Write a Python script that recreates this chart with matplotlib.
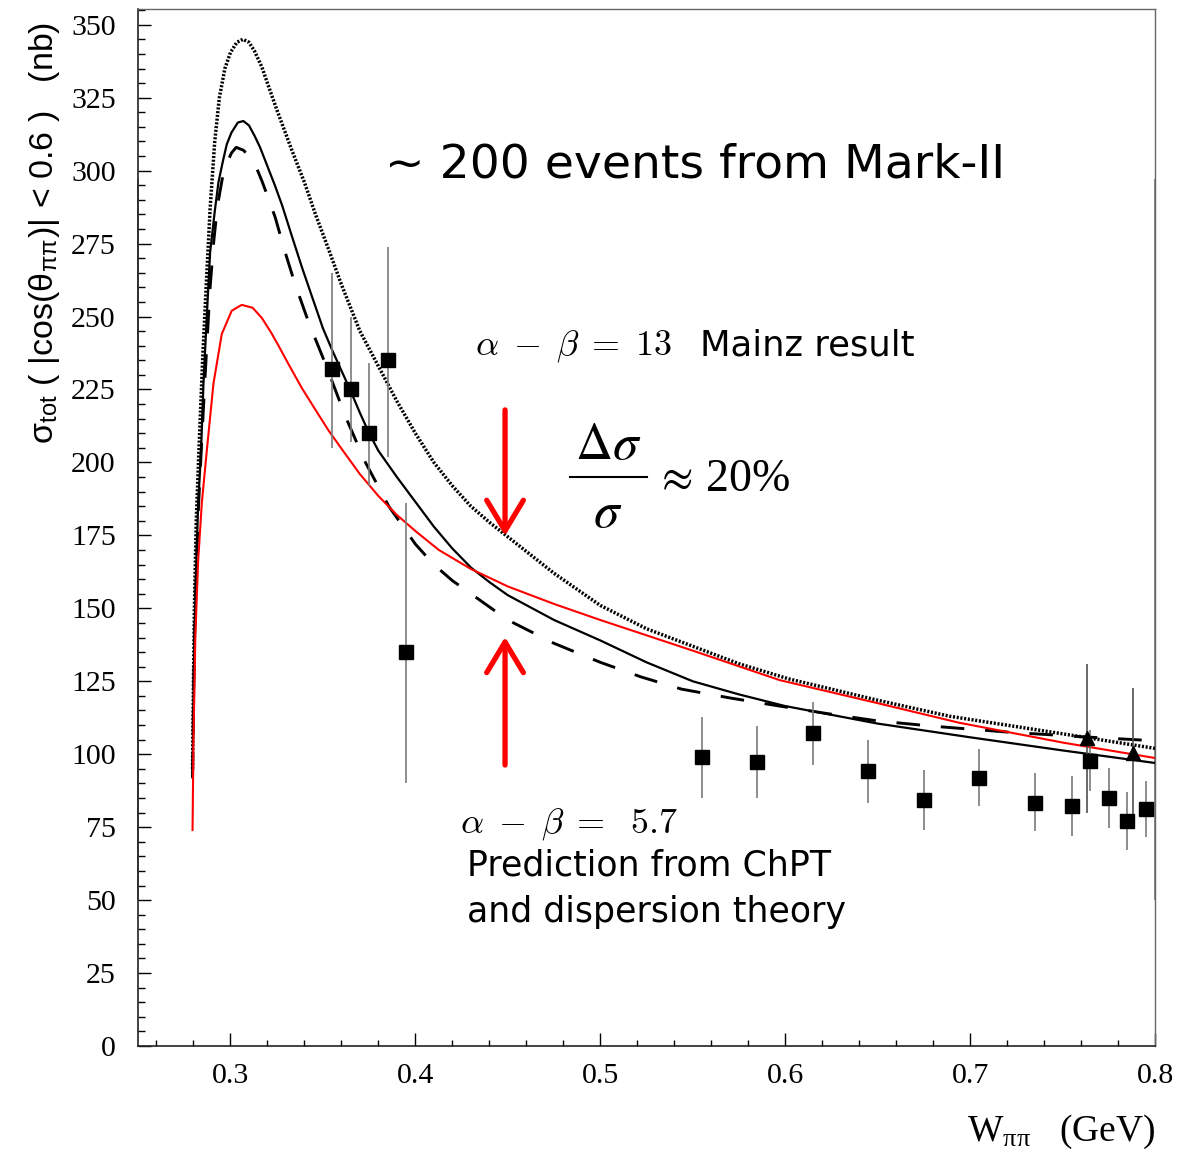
import matplotlib
matplotlib.use("Agg")
import matplotlib.pyplot as plt
from matplotlib.ticker import MultipleLocator, FixedLocator

plt.rcParams['font.family'] = ['Liberation Serif', 'DejaVu Serif']
plt.rcParams['lines.scale_dashes'] = False

# ---------------- data ----------------
solid_x = [0.2795, 0.2800, 0.2805, 0.2815, 0.2825, 0.2841, 0.2854, 0.2872, 0.2890, 0.2915,
           0.2935, 0.2960, 0.2980, 0.3005, 0.3040, 0.3070, 0.3100, 0.3130, 0.3160, 0.3200,
           0.3240, 0.3280, 0.3330, 0.3386, 0.3440, 0.3500, 0.3550, 0.3600, 0.3650, 0.3700,
           0.3750, 0.3800, 0.3900, 0.4000, 0.4100, 0.4200, 0.4300, 0.4400, 0.4500, 0.4750,
           0.5000, 0.5250, 0.5500, 0.5750, 0.6000, 0.6500, 0.7000, 0.7500, 0.8000]
solid_y = [92, 120, 140, 165, 185, 204, 227, 250, 272, 286,
           296, 303.5, 309, 313, 316.5, 317, 315.5, 312, 308, 301.5,
           295, 288, 278, 267, 257, 246, 238.5, 231.5, 224.5, 217,
           210, 204, 195, 186.5, 178, 170.5, 164, 159, 154.5, 146,
           139, 131.5, 125, 120.5, 116.5, 110.5, 105.8, 101.3, 97]

dashed_x = [0.2795, 0.2800, 0.2805, 0.2815, 0.2825, 0.2845, 0.2865, 0.2890, 0.2910, 0.2930,
            0.2955, 0.2980, 0.3005, 0.3031, 0.3070, 0.3100, 0.3134, 0.3170, 0.3205, 0.3242,
            0.3296, 0.3350, 0.3423, 0.3520, 0.3620, 0.3730, 0.3856, 0.4000, 0.4100, 0.4200,
            0.4300, 0.4400, 0.4500, 0.4750, 0.5000, 0.5220, 0.5440, 0.5700, 0.5960, 0.6230,
            0.6500, 0.6800, 0.7200, 0.7600, 0.8000]
dashed_y = [92, 118, 138, 162, 182, 208, 232, 260, 276, 288,
            297, 302.5, 306, 308, 307, 305, 302, 296.5, 290.5, 284,
            272, 261, 248, 232.8, 216, 200, 185, 172, 165, 159.5,
            155, 150.5, 146, 138, 131.5, 126.5, 122.3, 119.3, 116.6, 113.9,
            111.4, 109.6, 107.6, 106, 104.6]

dotted_x = [0.2795, 0.2800, 0.2805, 0.2815, 0.2830, 0.2850, 0.2870, 0.2890, 0.2915, 0.2940,
            0.2970, 0.3000, 0.3035, 0.3067, 0.3100, 0.3130, 0.3170, 0.3200, 0.3250, 0.3332,
            0.3400, 0.3460, 0.3531, 0.3600, 0.3700, 0.3800, 0.3900, 0.4000, 0.4100, 0.4200,
            0.4300, 0.4400, 0.4500, 0.4750, 0.5000, 0.5250, 0.5500, 0.5750, 0.6020, 0.6500,
            0.6890, 0.7500, 0.8000]
dotted_y = [95, 125, 150, 180, 205, 236, 262, 287, 310, 325,
            335, 340.5, 344, 345, 344, 341, 335.5, 330, 321, 307,
            296, 285, 273, 261, 245, 233, 221, 210, 200, 192,
            185, 179.5, 174.5, 162, 151, 143, 137, 131, 125.8, 118.5,
            113, 107, 102]

red_x = [0.2795, 0.2800, 0.2810, 0.2825, 0.2845, 0.2872, 0.2908, 0.2953, 0.3007, 0.3061,
         0.3120, 0.3170, 0.3220, 0.3260, 0.3320, 0.3386, 0.3460, 0.3530, 0.3603, 0.3700,
         0.3800, 0.3900, 0.4000, 0.4127, 0.4300, 0.4500, 0.4750, 0.5000, 0.5500, 0.5970,
         0.6500, 0.6940, 0.7500, 0.8000]
red_y = [74, 105, 140, 166, 186, 204, 227, 244, 252, 254,
         253, 249.5, 244.5, 240, 233, 225.5, 218, 211, 204.5, 196,
         188.5, 182, 176.5, 170, 163.5, 157.5, 151.5, 146, 135.5, 125.4,
         117.5, 110.8, 104, 98.7]

sq_x = [0.355, 0.365, 0.375, 0.385, 0.395, 0.555, 0.585, 0.615, 0.645, 0.675,
        0.705, 0.735, 0.755, 0.765, 0.775, 0.785, 0.795]
sq_y = [232, 225, 210, 235, 135, 99, 97.4, 107.4, 94.2, 84.3,
        92, 83.4, 82.2, 97.7, 84.9, 77.1, 81.1]
sq_lo = [205, 207, 192, 202, 90, 85, 85, 96.3, 83.4, 74,
         82.2, 73.8, 72.1, 87.5, 74.6, 67.2, 71.5]
sq_hi = [265, 250, 234, 274, 186, 112.6, 109.7, 118, 105, 94.5,
         101.8, 93.4, 92.5, 108.3, 95.2, 87.2, 90.8]

tri_x = [0.763, 0.788]
tri_y = [105.4, 100.3]
tri_lo = [80, 79]
tri_hi = [131, 122.6]

edge_x = [0.25, 0.80]
edge_lo = [50, 50]
edge_hi = [297, 297]

xticks = [0.3, 0.4, 0.5, 0.6, 0.7, 0.8]
xticklabels = ['0.3', '0.4', '0.5', '0.6', '0.7', '0.8']
yticks = [0, 25, 50, 75, 100, 125, 150, 175, 200, 225, 250, 275, 300, 325, 350]

# ---------------- figure ----------------
fig = plt.figure(figsize=(11.8, 11.58), dpi=100)
ax = fig.add_axes([138/1180, 1 - 1046/1158, (1155-138)/1180, (1046-9)/1158])
ax.set_xlim(0.25, 0.80)
ax.set_ylim(0, 355.4)

# error bars at the frame edges
ax.vlines(edge_x, edge_lo, edge_hi, color='#808080', lw=1.3, clip_on=False, zorder=1)

# curves
ax.plot(dotted_x, dotted_y, color='black', lw=2.5, dashes=(1.5, 1.2), zorder=3)
ax.plot(solid_x, solid_y, color='black', lw=1.6, zorder=3)
ax.plot(dashed_x, dashed_y, color='black', lw=2.1, dashes=(17, 15), zorder=3)
ax.plot(red_x, red_y, color='red', lw=1.5, zorder=3)

# data points
err_lo = [y - l for y, l in zip(sq_y, sq_lo)]
err_hi = [h - y for y, h in zip(sq_y, sq_hi)]
ax.errorbar(sq_x, sq_y, yerr=[err_lo, err_hi], fmt='s', color='black', ms=9.5,
            ecolor='#7a7a7a', elinewidth=1.2, capsize=0, zorder=4)
t_lo = [y - l for y, l in zip(tri_y, tri_lo)]
t_hi = [h - y for y, h in zip(tri_y, tri_hi)]
ax.errorbar(tri_x, tri_y, yerr=[t_lo, t_hi], fmt='^', color='black', ms=10,
            ecolor='#505050', elinewidth=1.2, capsize=0, zorder=4)

# ticks
ax.xaxis.set_major_locator(FixedLocator(xticks))
ax.set_xticklabels(xticklabels)
ax.xaxis.set_minor_locator(MultipleLocator(0.02))
ax.yaxis.set_major_locator(FixedLocator(yticks))
ax.yaxis.set_minor_locator(MultipleLocator(5))
ax.tick_params(which='both', direction='in', top=False, right=False, labelsize=21.5,
               colors='black')
ax.tick_params(axis='y', which='major', length=9.5, width=1.0, pad=16)
ax.tick_params(axis='y', which='minor', length=5, width=1.0)
ax.tick_params(axis='x', which='major', length=9.5, width=1.0, pad=12)
ax.tick_params(axis='x', which='minor', length=4.5, width=1.0)
for s in ['left', 'bottom']:
    ax.spines[s].set_linewidth(1.2)
    ax.spines[s].set_color('#222222')
for s in ['top', 'right']:
    ax.spines[s].set_linewidth(1.0)
    ax.spines[s].set_color('#666666')

# axis titles
fig.text(1155/1180, 1 - 1141/1158, r'W$_{\mathregular{ππ}}$   (GeV)', ha='right',
         va='baseline', fontsize=27, family='Liberation Serif', math_fontfamily='stix')
fig.text(45/1180, 1 - 22/1158,
         r'$\mathregular{σ}_{\mathregular{tot}}$ ( |cos($\mathregular{θ}_{\mathregular{ππ}}$)| < 0.6 )   (nb)',
         rotation=90, ha='center', va='top', fontsize=24.5, family='Liberation Sans',
         math_fontfamily='stix')

def axc(px, py):
    return ((px - 138) / 1017, (1046 - py) / 1037)

comic = ['DejaVu Sans']
ax.text(*axc(385, 177), '~ 200 events from Mark-II', transform=ax.transAxes,
        fontsize=34, family=comic, ha='left', va='baseline')
ax.text(*axc(475, 355), r'$\alpha\;-\;\beta\;=\;13$', transform=ax.transAxes,
        fontsize=26, math_fontfamily='cm', ha='left', va='baseline')
ax.text(*axc(700, 355), 'Mainz result', transform=ax.transAxes,
        fontsize=25.5, family=comic, ha='left', va='baseline')
ax.text(*axc(460, 833), r'$\alpha\;-\;\beta\;=\;\,\,5.7$', transform=ax.transAxes,
        fontsize=26, math_fontfamily='cm', ha='left', va='baseline')
ax.text(*axc(467, 876), 'Prediction from ChPT', transform=ax.transAxes,
        fontsize=25, family=comic, ha='left', va='baseline')
ax.text(*axc(467, 922), 'and dispersion theory', transform=ax.transAxes,
        fontsize=25, family=comic, ha='left', va='baseline')

# fraction  delta sigma / sigma ~ 20%
ax.text(*axc(608, 459), r'$\Delta\sigma$', transform=ax.transAxes, fontsize=37,
        math_fontfamily='stix', ha='center', va='baseline')
ax.text(*axc(608, 527), r'$\sigma$', transform=ax.transAxes, fontsize=37,
        math_fontfamily='stix', ha='center', va='baseline')
bx0, by = axc(570, 477)
bx1, _ = axc(647, 477)
ax.plot([bx0, bx1], [by, by], transform=ax.transAxes, color='black', lw=1.5, clip_on=False)
ax.text(*axc(655, 491), r'$\approx\,$20%', transform=ax.transAxes, fontsize=33,
        math_fontfamily='stix', ha='left', va='baseline')

# red arrows
arrow_x = 0.4485
ap = dict(arrowstyle='->,head_length=0.55,head_width=0.33', color='red', lw=3.8,
          mutation_scale=40, shrinkA=0, shrinkB=0)
ax.annotate('', xy=(arrow_x, 174.8), xytext=(arrow_x, 218), arrowprops=ap)
ax.annotate('', xy=(arrow_x, 140.2), xytext=(arrow_x, 96.3), arrowprops=ap)

fig.savefig('out.png', dpi=100)
